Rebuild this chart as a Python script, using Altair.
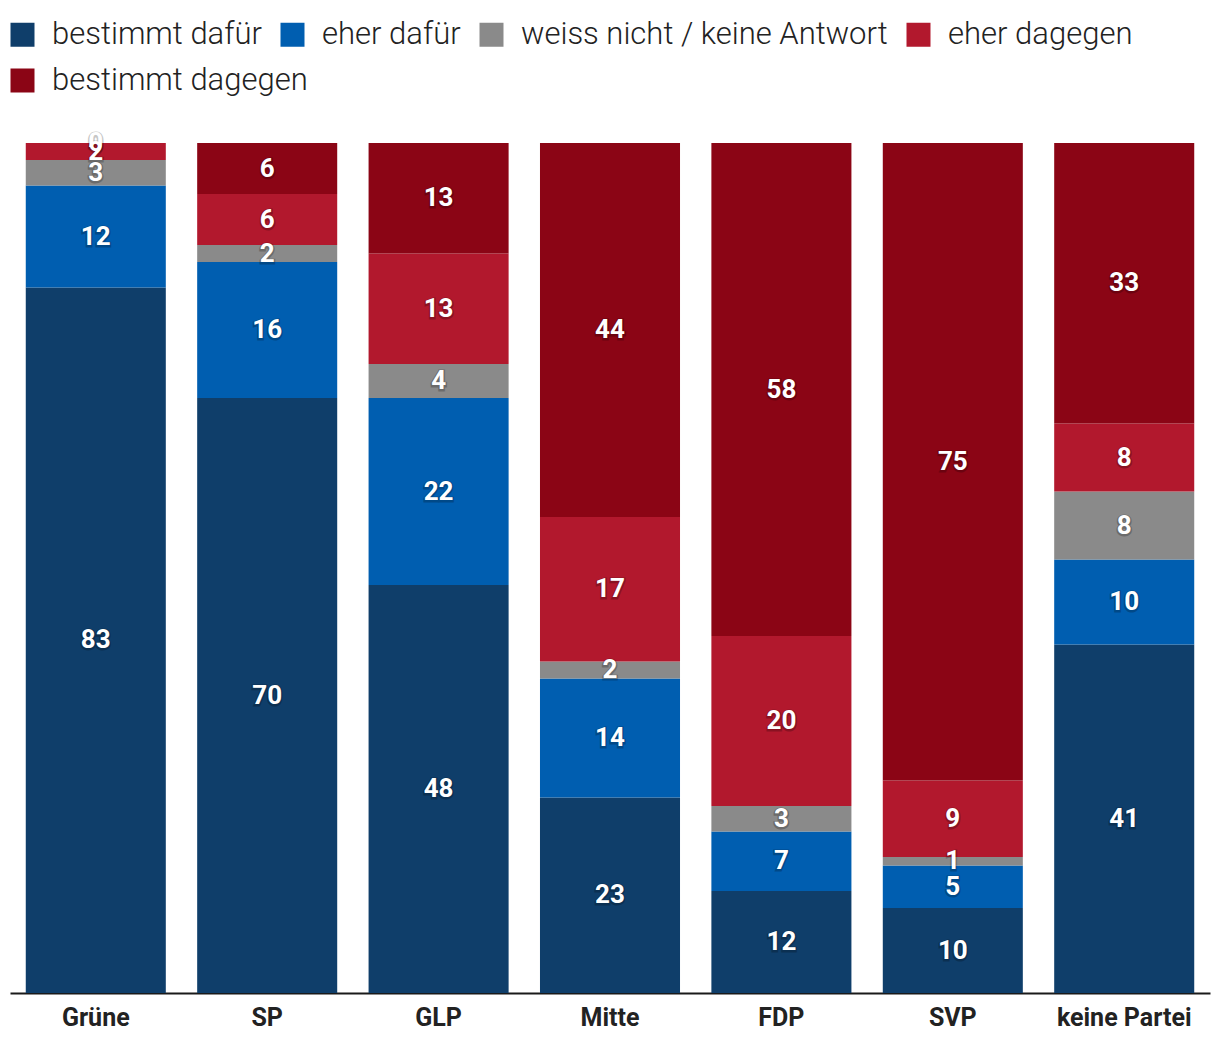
import altair as alt
import pandas as pd

parties = ["Grüne", "SP", "GLP", "Mitte", "FDP", "SVP", "keine Partei"]
answers = ["bestimmt dafür", "eher dafür", "weiss nicht / keine Antwort", "eher dagegen", "bestimmt dagegen"]
colors = ["#0f3e6a", "#005eb0", "#8a8a8a", "#b2182d", "#8b0515"]

bestimmt_dafuer = [83, 70, 48, 23, 12, 10, 41]
eher_dafuer = [12, 16, 22, 14, 7, 5, 10]
weiss_nicht = [3, 2, 4, 2, 3, 1, 8]
eher_dagegen = [2, 6, 13, 17, 20, 9, 8]
bestimmt_dagegen = [0, 6, 13, 44, 58, 75, 33]

series = [bestimmt_dafuer, eher_dafuer, weiss_nicht, eher_dagegen, bestimmt_dagegen]
rows = []
for ai, (ans, vals) in enumerate(zip(answers, series)):
    for p, v in zip(parties, vals):
        rows.append({"party": p, "answer": ans, "value": v, "order": ai})
df = pd.DataFrame(rows)

FONT = "Roboto"
first_row = answers[:4]
second_row = answers[4:]

base = alt.Chart(df).transform_stack(
    stack="value", groupby=["party"], as_=["y0", "y1"], sort=[alt.SortField("order", order="ascending")]
).transform_calculate(mid="(datum.y0 + datum.y1) / 2")

xenc = alt.X(
    "party:N", sort=parties, title=None,
    scale=alt.Scale(paddingInner=0.183, paddingOuter=0.092),
    axis=alt.Axis(domainColor="#1a1a1a", domainWidth=2, ticks=False, labelAngle=0,
                  labelFont=FONT, labelFontSize=25, labelFontWeight="bold", labelColor="#222222",
                  labelPadding=12),
)
yscale = alt.Scale(domain=[0, 100], nice=False)

legend_common = dict(
    orient="none", direction="horizontal", padding=0,
    symbolType="square", symbolSize=576, symbolStrokeWidth=0, symbolOpacity=1,
    labelFont=FONT, labelFontSize=31, labelFontWeight=300, labelColor="#222222",
    labelOffset=14, columnPadding=15, labelLimit=800,
)

bars_a = base.transform_filter(
    alt.FieldOneOfPredicate(field="answer", oneOf=first_row)
).mark_bar().encode(
    x=xenc,
    y=alt.Y("y0:Q", scale=yscale, axis=None),
    y2="y1:Q",
    color=alt.Color(
        "answer:N", sort=first_row, scale=alt.Scale(domain=first_row, range=colors[:4]), title=None,
        legend=alt.Legend(legendX=-3, legendY=-124, columns=4, **legend_common),
    ),
)

bars_b = base.transform_filter(
    alt.FieldOneOfPredicate(field="answer", oneOf=second_row)
).mark_bar().encode(
    x=alt.X("party:N", sort=parties),
    y=alt.Y("y0:Q", scale=yscale, axis=None),
    y2="y1:Q",
    fill=alt.Fill(
        "answer:N", scale=alt.Scale(domain=second_row, range=colors[4:]), title=None,
        legend=alt.Legend(legendX=-3, legendY=-78, columns=1, **legend_common),
    ),
)

shadow = base.mark_text(
    font=FONT, fontSize=26, fontWeight="bold", color="#000000", stroke="#000000",
    strokeWidth=3, opacity=0.22, baseline="middle", dy=1
).encode(x=alt.X("party:N", sort=parties), y=alt.Y("mid:Q", scale=yscale), text="value:Q")

labels = base.mark_text(
    font=FONT, fontSize=26, fontWeight="bold", color="#ffffff", baseline="middle"
).encode(x=alt.X("party:N", sort=parties), y=alt.Y("mid:Q", scale=yscale), text="value:Q")

chart = alt.layer(bars_a, bars_b, shadow, labels).resolve_legend(
    color="independent", fill="independent"
).properties(
    width=1200, height=850,
    autosize=alt.AutoSizeParams(type="none"),
    padding={"left": 2, "top": 135, "right": 2, "bottom": 55},
).configure(
    background="#ffffff",
    view=alt.ViewConfig(stroke=None, strokeWidth=0),
)

chart.save("out.html", embed_options={"renderer": "svg", "actions": False})
